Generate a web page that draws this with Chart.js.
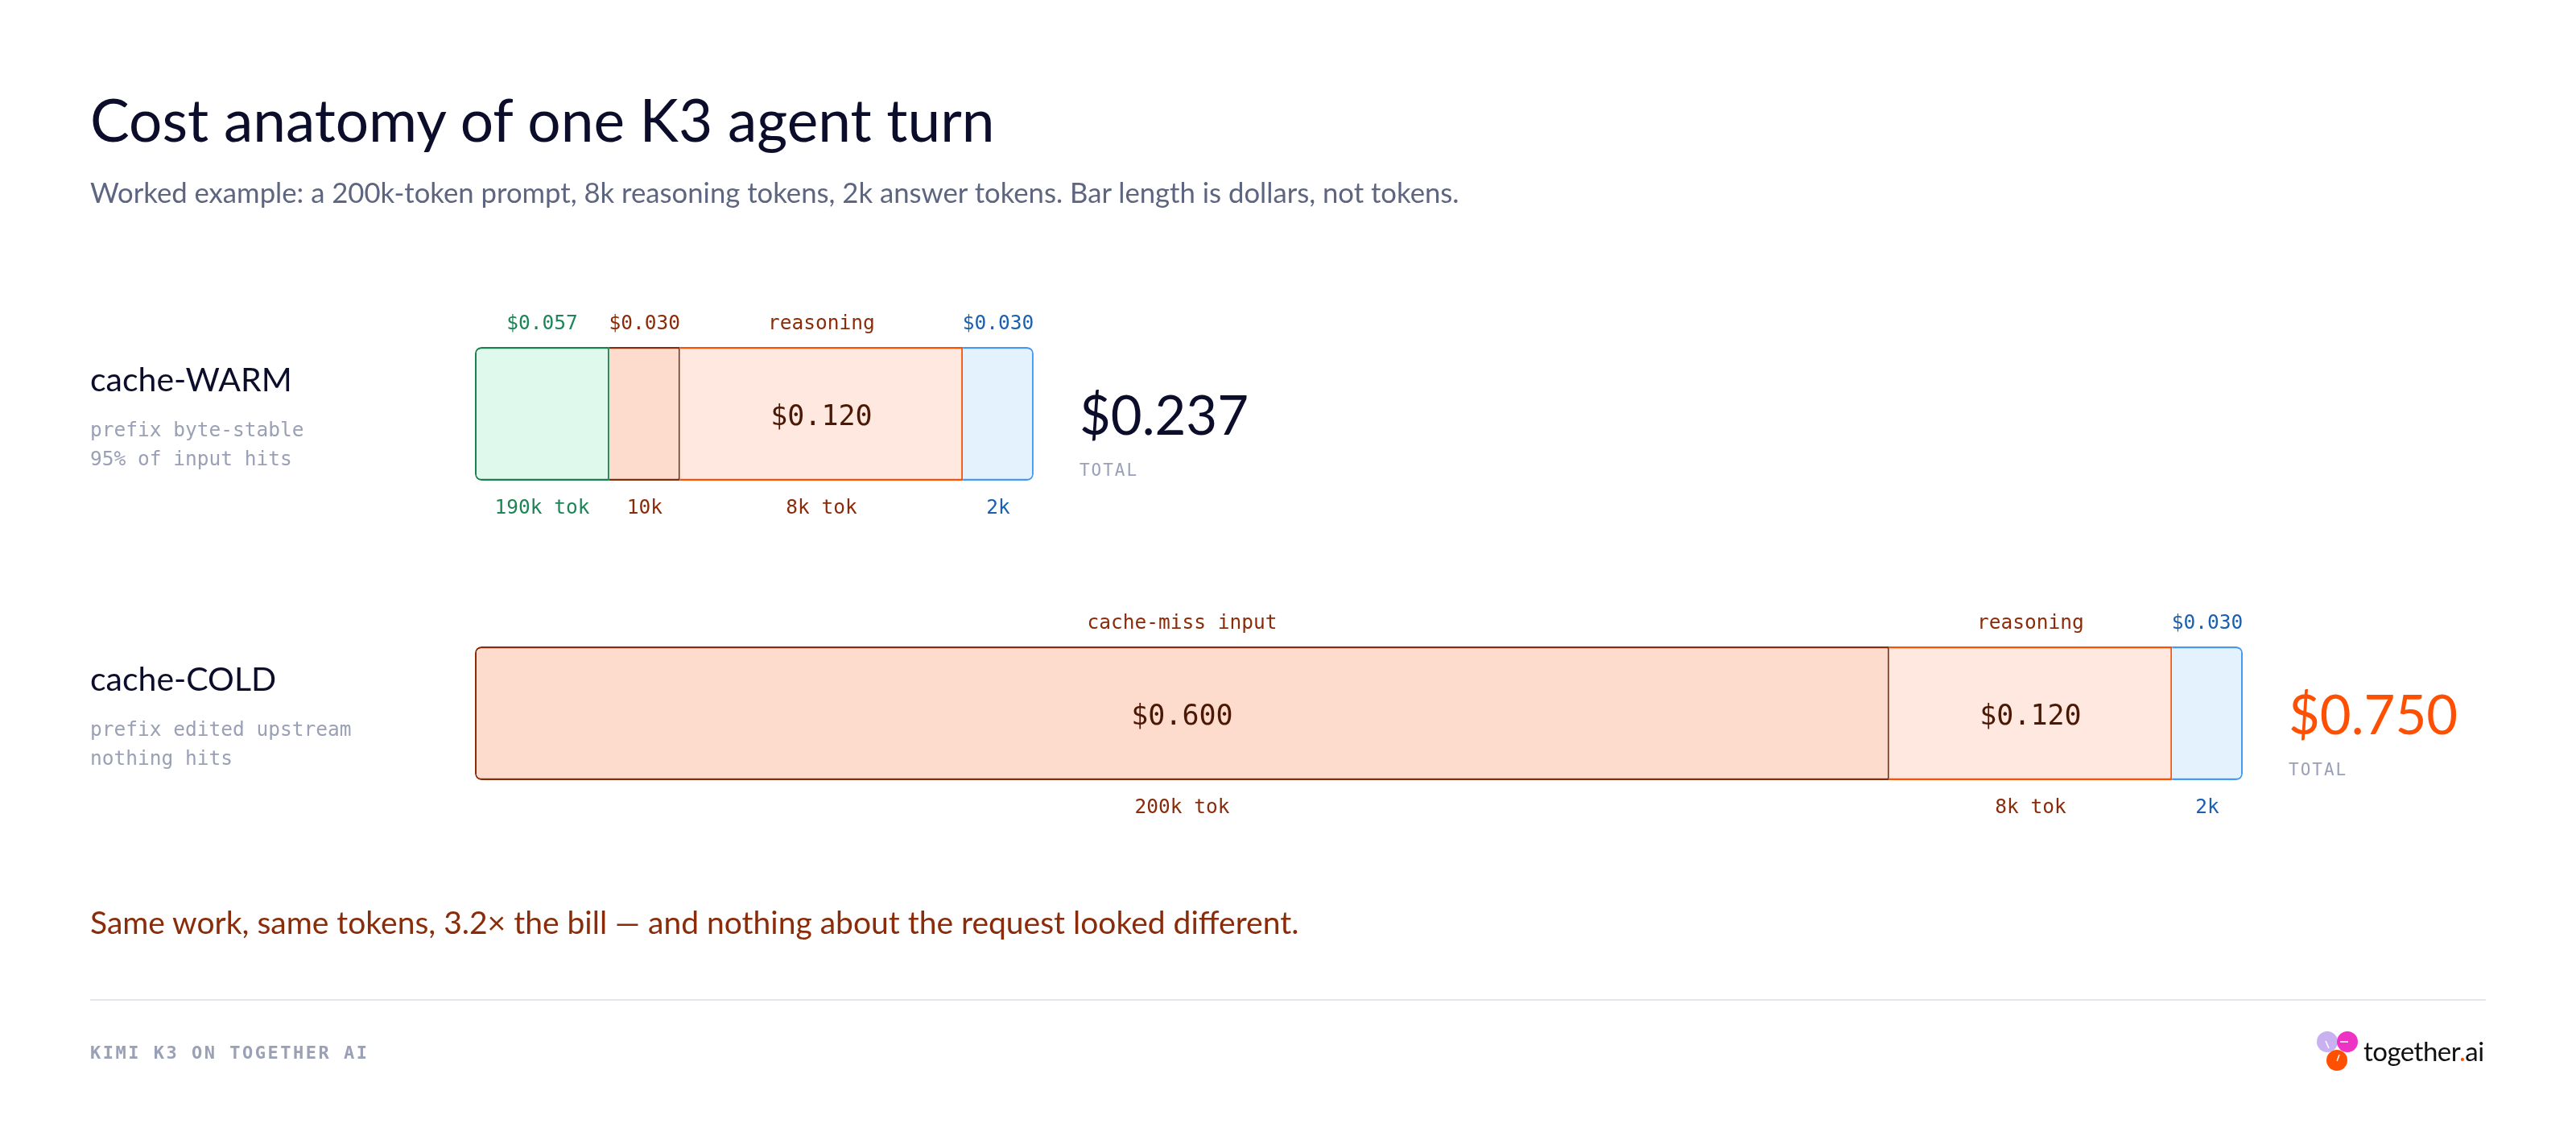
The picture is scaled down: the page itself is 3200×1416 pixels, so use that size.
<!DOCTYPE html>
<html>
<head>
<meta charset="utf-8">
<title>Cost anatomy of one K3 agent turn</title>
<script src="https://cdn.jsdelivr.net/npm/chart.js@4.4.1/dist/chart.umd.min.js"></script>
<style>
  html, body { margin: 0; padding: 0; background: #fff; }
  body { width: 3200px; height: 1416px; position: relative; overflow: hidden; font-family: Lato, "Noto Sans", sans-serif; }
  #chart { position: absolute; left: 0; top: 0; }
  .t { position: absolute; white-space: nowrap; line-height: 1; }
  .sans { font-family: Lato, "Noto Sans", sans-serif; }
  .mono { font-family: "DejaVu Sans Mono", monospace; }
  #title { left: 112px; font-size: 73px; color: #0b0d2b; }
  #subtitle { left: 112px; font-size: 34.7px; color: #5d6581; }
  .rowName { left: 112px; font-size: 41px; color: #0b0d2b; }
  .note { left: 112px; font-size: 24.5px; color: #9aa0b5; }
  .total { font-size: 67px; }
  .totalTag { font-size: 21px; letter-spacing: 2px; color: #9aa0b5; }
  #takeaway { left: 112px; font-size: 39px; color: #8a2c0a; }
  #rule { position: absolute; left: 112px; top: 1241px; width: 2976px; height: 2px; background: #e4e4ec; }
  #footer { left: 112px; font-size: 22px; font-weight: bold; letter-spacing: 2.5px; color: #9aa0b5; }
  #logo { position: absolute; left: 2876px; top: 1279px; }
  #logoText { left: 2936px; font-size: 33px; letter-spacing: -0.5px; color: #111; }
</style>
</head>
<body>
<canvas id="chart" width="3200" height="1416"></canvas>
<div id="rule"></div>
<svg id="logo" width="56" height="56" viewBox="0 0 56 56">
  <circle cx="15" cy="15" r="13" fill="#c9b0f0"/>
  <circle cx="40" cy="15" r="13" fill="#ee33c4"/>
  <circle cx="27" cy="38" r="13" fill="#ff4f00"/>
  <line x1="13" y1="14" x2="17" y2="23" stroke="#fff" stroke-width="1.6"/>
  <line x1="31" y1="15" x2="41" y2="15" stroke="#fff" stroke-width="1.6"/>
  <line x1="27" y1="39" x2="30" y2="31" stroke="#fff" stroke-width="1.6"/>
</svg>
<script>
// rows
const rowNames = ['cache-WARM', 'cache-COLD'];
const rowNotes = [['prefix byte-stable', '95% of input hits'], ['prefix edited upstream', 'nothing hits']];

// dollars per segment, one value per row
const segmentNames = ['cache-hit input', 'cache-miss input', 'reasoning', 'answer'];
const hitCost = [0.057, 0];
const missCost = [0.030, 0.600];
const reasoningCost = [0.120, 0.120];
const answerCost = [0.030, 0.030];

// token labels under each segment
const hitTokens = ['190k tok', ''];
const missTokens = ['10k', '200k tok'];
const reasoningTokens = ['8k tok', '8k tok'];
const answerTokens = ['2k', '2k'];

const xMax = 0.75;

const fills = ['#dffaed', '#fddccd', '#ffe8df', '#e4f2fe'];
const borders = ['#1a8050', '#8a2c0a', '#ff4f00', '#4499f0'];
const labelColors = ['#1d8556', '#8a2c0a', '#8a2c0a', '#1a5fb0'];
const insideColor = '#4a1804';
const totalColors = ['#0b0d2b', '#ff4f00'];

const costs = [hitCost, missCost, reasoningCost, answerCost];
const tokens = [hitTokens, missTokens, reasoningTokens, answerTokens];
const money = v => '$' + v.toFixed(3);

// first / last non-empty segment in each row, for the rounded ends
const firstSeg = rowNames.map((_, j) => costs.findIndex(c => c[j] > 0));
const lastSeg = rowNames.map((_, j) => costs.length - 1 - [...costs].reverse().findIndex(c => c[j] > 0));

function addText(cls, text, x, baseline, size, asc, color) {
  const el = document.createElement('div');
  el.className = 't ' + cls;
  el.textContent = text;
  el.style.left = x + 'px';
  el.style.top = (baseline - size * asc) + 'px';
  if (color) el.style.color = color;
  document.body.appendChild(el);
  return el;
}

const LATO = 0.887, MONO = 0.846;
addText('sans', 'Cost anatomy of one K3 agent turn', 112, 177, 73, LATO).id = 'title';
addText('sans', 'Worked example: a 200k-token prompt, 8k reasoning tokens, 2k answer tokens. Bar length is dollars, not tokens.', 112, 253, 34.7, LATO).id = 'subtitle';
addText('sans', 'Same work, same tokens, 3.2× the bill — and nothing about the request looked different.', 112, 1161, 39, LATO).id = 'takeaway';
addText('mono', 'KIMI K3 ON TOGETHER AI', 112, 1316, 22, MONO).id = 'footer';
const logoText = addText('sans', 'together', 2936, 1318, 33, LATO);
logoText.id = 'logoText';
const dot = document.createElement('span'); dot.textContent = '.'; dot.style.color = '#ff4f00';
logoText.appendChild(dot); logoText.appendChild(document.createTextNode('ai'));

const segmentLabels = {
  id: 'segmentLabels',
  afterDatasetsDraw(chart) {
    const ctx = chart.ctx;
    ctx.save();
    ctx.textAlign = 'center';
    ctx.textBaseline = 'alphabetic';
    chart.data.datasets.forEach((ds, i) => {
      chart.getDatasetMeta(i).data.forEach((bar, j) => {
        const v = ds.data[j];
        if (!v) return;
        const p = bar.getProps(['x', 'y', 'base', 'height'], true);
        const cx = (p.x + p.base) / 2;
        const top = p.y - p.height / 2, bottom = p.y + p.height / 2;
        const wide = Math.abs(p.x - p.base) > 250;
        ctx.fillStyle = labelColors[i];
        ctx.font = '24.5px "DejaVu Sans Mono"';
        ctx.fillText(wide ? segmentNames[i] : money(v), cx, top - 22);
        ctx.fillText(ds.tokens[j], cx, bottom + 41);
        if (wide) {
          ctx.fillStyle = insideColor;
          ctx.font = '35px "DejaVu Sans Mono"';
          ctx.fillText(money(v), cx, p.y + 14);
        }
      });
    });
    ctx.restore();
  }
};

// row names, notes and totals placed from the chart's own scales
const rowText = {
  id: 'rowText',
  afterRender(chart) {
    if (chart.$rowTextDone) return;
    chart.$rowTextDone = true;
    const xs = chart.scales.x, ys = chart.scales.y;
    rowNames.forEach((name, j) => {
      const cy = ys.getPixelForValue(j);
      const total = costs.reduce((s, c) => s + c[j], 0);
      addText('sans rowName', name, 112, cy - 28, 41, LATO);
      rowNotes[j].forEach((n, k) => addText('mono note', n, 112, cy + 29 + k * 36, 24.5, MONO));
      const tx = xs.getPixelForValue(total) + 57;
      addText('sans total', money(total), tx, cy + 26, 67, LATO, totalColors[j]);
      addText('mono totalTag', 'TOTAL', tx, cy + 78, 21, MONO);
    });
  }
};

new Chart(document.getElementById('chart').getContext('2d'), {
  type: 'bar',
  data: {
    labels: rowNames,
    datasets: costs.map((c, i) => ({
      label: segmentNames[i],
      data: c,
      tokens: tokens[i],
      backgroundColor: fills[i],
      borderColor: borders[i],
      borderWidth: ctx => ({ top: 2.5, bottom: 2.5, right: 2, left: firstSeg[ctx.dataIndex] === i ? 2 : 0 }),
      borderRadius: ctx => {
        const j = ctx.dataIndex;
        const r = 8;
        return {
          topLeft: firstSeg[j] === i ? r : 0,
          bottomLeft: firstSeg[j] === i ? r : 0,
          topRight: lastSeg[j] === i ? r : 0,
          bottomRight: lastSeg[j] === i ? r : 0
        };
      },
      borderSkipped: false,
      inflateAmount: 0,
      barThickness: 166
    }))
  },
  options: {
    indexAxis: 'y',
    responsive: false,
    animation: false,
    devicePixelRatio: 1,
    layout: { padding: { left: 590, right: 414, top: 328, bottom: 344 } },
    scales: {
      x: { stacked: true, min: 0, max: xMax, display: false },
      y: { stacked: true, display: false }
    },
    plugins: {
      legend: { display: false },
      tooltip: { enabled: false }
    }
  },
  plugins: [segmentLabels, rowText]
});
</script>
</body>
</html>
